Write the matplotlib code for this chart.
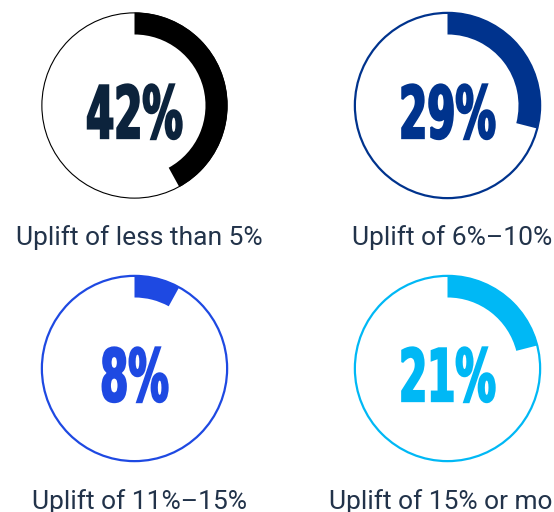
import matplotlib
matplotlib.use("Agg")
import matplotlib.pyplot as plt
from matplotlib.patches import Circle
from matplotlib.patheffects import AbstractPathEffect
from matplotlib.transforms import Affine2D

# ---- data ----
values = [42, 29, 8, 21]
number_labels = ["42%", "29%", "8%", "21%"]
captions = ["Uplift of less than 5%", "Uplift of 6%–10%",
            "Uplift of 11%–15%", "Uplift of 15% or more"]
arc_colors = ["#000000", "#00338D", "#1E49E2", "#00B8F5"]
text_colors = ["#0C233C", "#00338D", "#1E49E2", "#00B8F5"]
ring_widths = [0.8, 1.6, 1.6, 1.6]


class Condense(AbstractPathEffect):
    """Draw text glyphs horizontally condensed around a display x, with a
    thin same-colour stroke to keep the strokes heavy."""

    def __init__(self, sx, cx, lw=0.0, color="k"):
        super().__init__()
        self.sx, self.cx, self.lw, self.color = sx, cx, lw, color

    def draw_path(self, renderer, gc, tpath, affine, rgbFace=None):
        aff = affine + Affine2D().translate(-self.cx, 0).scale(self.sx, 1).translate(self.cx, 0)
        gc0 = renderer.new_gc()
        gc0.copy_properties(gc)
        gc0.set_linewidth(self.lw)
        gc0.set_foreground(self.color)
        gc0.set_joinstyle("miter")
        renderer.draw_path(gc0, tpath, aff, rgbFace)
        gc0.restore()


W, H = 554, 512
DPI = 100
fig = plt.figure(figsize=(W / DPI, H / DPI), dpi=DPI)
fig.patch.set_facecolor("white")

col_x = [134.5, 447.5]
row_y = [105.5, 368.5]
R = 93.0
thick = 22.0

for i, v in enumerate(values):
    cx = col_x[i % 2]
    cy = row_y[i // 2]
    ax = fig.add_axes([(cx - R) / W, 1 - (cy + R) / H, 2 * R / W, 2 * R / H])
    ax.pie([v, 100 - v], startangle=90, counterclock=False, radius=1,
           colors=[arc_colors[i], "none"],
           wedgeprops=dict(width=thick / R, linewidth=0))
    ax.add_patch(Circle((0, 0), 1 - 0.004, fill=False, edgecolor=arc_colors[i],
                        linewidth=ring_widths[i], clip_on=False))
    ax.set_xlim(-1, 1)
    ax.set_ylim(-1, 1)
    ax.set_aspect("equal")
    ax.axis("off")
    t = ax.text(0, -0.35, number_labels[i], ha="center", va="baseline",
                fontsize=52, fontweight="bold", color=text_colors[i],
                family="DejaVu Sans")
    t.set_path_effects([Condense(0.56, cx, lw=1.6, color=text_colors[i])])
    # caption
    fig.text((cx + 5) / W, 1 - (cy + 140) / H, captions[i], ha="center",
             va="baseline", fontsize=19, fontweight="normal", color="#22334A",
             family=["Roboto", "DejaVu Sans"])

fig.savefig("out.png", dpi=DPI)
